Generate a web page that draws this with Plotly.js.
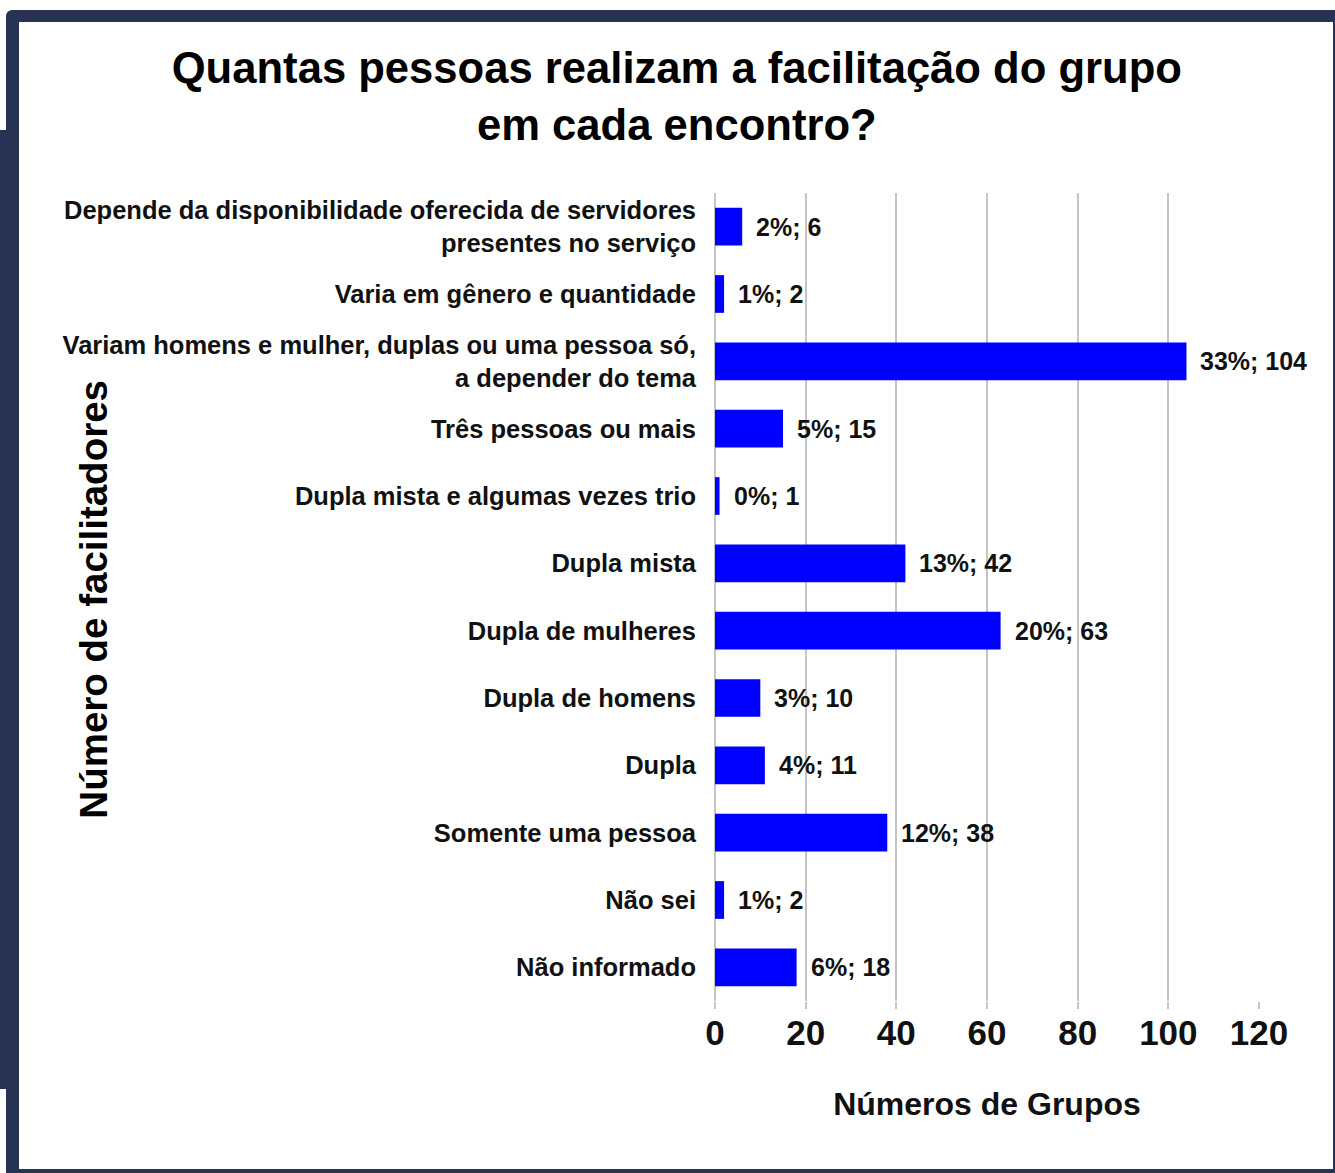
<!DOCTYPE html>
<html>
<head>
<meta charset="utf-8">
<script src="https://cdn.plot.ly/plotly-3.0.1.min.js"></script>
<style>
  html, body { margin: 0; padding: 0; background: #ffffff; }
  #wrap { position: relative; width: 1335px; height: 1173px; overflow: hidden; background: #ffffff; }
  .nv { position: absolute; background: #283252; }
  #inner { position: absolute; left: 19px; top: 22px; width: 1314px; height: 1147px; background: #ffffff; }
  #chart { position: absolute; left: 0; top: 0; width: 1335px; height: 1173px; }
</style>
</head>
<body>
<div id="wrap">
  <div class="nv" style="left:6px; top:10px; width:1329px; height:1163px; border-top-left-radius:6px;"></div>
  <div class="nv" style="left:0px; top:130px; width:19px; height:959px;"></div>
  <div id="inner"></div>
  <div id="chart"></div>
</div>
<script>
const categories = [
  "Depende da disponibilidade oferecida de servidores<br>presentes no serviço",
  "Varia em gênero e quantidade",
  "Variam homens e mulher, duplas ou uma pessoa só,<br>a depender do tema",
  "Três pessoas ou mais",
  "Dupla mista e algumas vezes trio",
  "Dupla mista",
  "Dupla de mulheres",
  "Dupla de homens",
  "Dupla",
  "Somente uma pessoa",
  "Não sei",
  "Não informado"
];
const counts = [6, 2, 104, 15, 1, 42, 63, 10, 11, 38, 2, 18];
const percents = ["2%", "1%", "33%", "5%", "0%", "13%", "20%", "3%", "4%", "12%", "1%", "6%"];
const xTicks = [0, 20, 40, 60, 80, 100, 120];

const font = "'Liberation Sans', Arial, sans-serif";

const trace = {
  type: 'bar',
  orientation: 'h',
  x: counts,
  y: categories,
  width: 0.56,
  marker: { color: '#0000ff', line: { width: 0 } },
  hoverinfo: 'none'
};

const annotations = counts.map((v, i) => ({
  x: v, y: categories[i], xref: 'x', yref: 'y',
  text: percents[i] + '; ' + v,
  showarrow: false, xanchor: 'left', yanchor: 'middle', xshift: 12,
  font: { family: font, size: 25, color: '#111111', weight: 'bold' }
}));

annotations.push({
  xref: 'paper', yref: 'paper', x: -1.143, y: 0.497,
  text: 'Número de facilitadores', textangle: -90, showarrow: false,
  xanchor: 'center', yanchor: 'middle',
  font: { family: font, size: 38.5, color: '#000000', weight: 'bold' }
});

const layout = {
  width: 1335, height: 1173,
  paper_bgcolor: 'rgba(0,0,0,0)',
  plot_bgcolor: 'rgba(0,0,0,0)',
  margin: { l: 715, r: 76, t: 193, b: 172, pad: 0 },
  showlegend: false,
  title: {
    text: 'Quantas pessoas realizam a facilitação do grupo<br>em cada encontro?',
    font: { family: font, size: 43.6, color: '#000000', weight: 'bold' },
    x: 0.507, xanchor: 'center', y: 0.929, yanchor: 'top', yref: 'container'
  },
  xaxis: {
    range: [0, 120],
    tickvals: xTicks,
    ticktext: xTicks.map(String),
    showgrid: true, gridcolor: '#c4c4c4', gridwidth: 2,
    zeroline: true, zerolinecolor: '#c4c4c4', zerolinewidth: 2,
    showline: false,
    ticks: 'outside', ticklen: 7, tickwidth: 2, tickcolor: '#c4c4c4',
    ticklabelstandoff: -6,
    tickfont: { family: font, size: 35, color: '#111111', weight: 'bold' },
    title: {
      text: 'Números de Grupos', standoff: 41,
      font: { family: font, size: 32, color: '#111111', weight: 'bold' }
    },
    fixedrange: true
  },
  yaxis: {
    type: 'category',
    autorange: 'reversed',
    showgrid: false, zeroline: false, showline: false,
    ticks: '', ticklabelstandoff: 18,
    tickfont: { family: font, size: 25.5, color: '#111111', weight: 'bold' },
    fixedrange: true
  },
  annotations: annotations
};

Plotly.newPlot('chart', [trace], layout, { displayModeBar: false, staticPlot: true });
</script>
</body>
</html>
